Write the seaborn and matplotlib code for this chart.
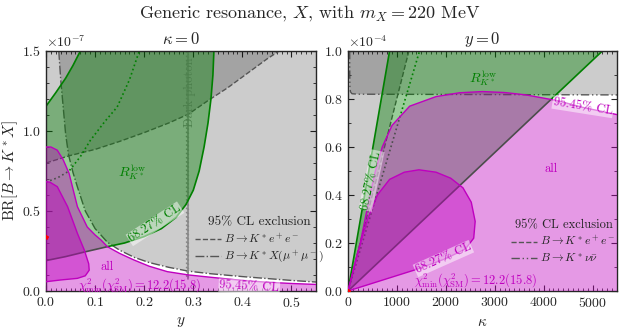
import numpy as np
import matplotlib
matplotlib.use("Agg")
import matplotlib.pyplot as plt
import matplotlib.patheffects as pe
from matplotlib.lines import Line2D
from matplotlib.ticker import MultipleLocator
import seaborn as sns

# =========================
# DATA
# =========================

# left panel: kappa = 0, x = y coupling, BR in units of 1e-7
ee_left_x = [0.0, 0.047, 0.10, 0.15, 0.20, 0.25, 0.29, 0.33, 0.37, 0.41, 0.45, 0.475]
ee_left_br = [0.80, 0.845, 0.885, 0.935, 0.99, 1.05, 1.105, 1.19, 1.27, 1.36, 1.45, 1.50]

mumu_x = [0.026, 0.030, 0.035, 0.040, 0.046, 0.055, 0.064, 0.08, 0.10, 0.125, 0.15,
          0.18, 0.21, 0.25, 0.29, 0.335, 0.40, 0.45, 0.50, 0.55]
mumu_br = [1.50, 1.32, 1.15, 0.98, 0.85, 0.74, 0.65, 0.50, 0.39, 0.305, 0.255,
           0.21, 0.178, 0.148, 0.124, 0.108, 0.09, 0.078, 0.066, 0.056]

rk_main_x = [0.0, 0.04, 0.08, 0.125, 0.16, 0.20, 0.235, 0.265, 0.285, 0.30, 0.312,
             0.322, 0.330, 0.336, 0.340, 0.342]
rk_main_br = [0.19, 0.215, 0.245, 0.277, 0.30, 0.34, 0.39, 0.46, 0.54, 0.63, 0.75,
              0.90, 1.05, 1.20, 1.35, 1.50]
rk_top_x = [0.07, 0.055, 0.04, 0.02, 0.0]
rk_top_br = [1.50, 1.41, 1.33, 1.24, 1.155]

rk_dot_x = [0.0, 0.025, 0.047, 0.07, 0.09, 0.12, 0.145, 0.17, 0.19]
rk_dot_br = [0.68, 0.71, 0.75, 0.84, 0.94, 1.06, 1.15, 1.32, 1.50]

all95_left_x = [0.0, 0.01, 0.023, 0.035, 0.047, 0.064, 0.084, 0.10, 0.112, 0.125, 0.15,
                0.179, 0.21, 0.247, 0.291, 0.335, 0.40, 0.45, 0.50, 0.55]
all95_left_br = [0.90, 0.90, 0.88, 0.82, 0.735, 0.527, 0.40, 0.35, 0.319, 0.277, 0.235,
                 0.194, 0.155, 0.121, 0.10, 0.086, 0.066, 0.055, 0.047, 0.041]

all68_left_x = [0.0, 0.03, 0.064, 0.08, 0.088, 0.087, 0.078, 0.064, 0.044, 0.023, 0.008, 0.0]
all68_left_br = [0.058, 0.069, 0.079, 0.095, 0.13, 0.17, 0.256, 0.36, 0.527, 0.652, 0.68, 0.683]

dark_photon_x = [0.29, 0.29]
dark_photon_br = [0.075, 1.50]

best_left = (0.0, 0.34)

# right panel: y = 0, x = kappa, BR in units of 1e-4
ee_right_k = [0, 1245]
ee_right_br = [0.0, 1.0]

nunu_k = [35, 36, 40, 50, 80, 200, 5500]
nunu_br = [1.0, 0.90, 0.85, 0.83, 0.822, 0.82, 0.817]

rk_left_k = [0, 850]
rk_right_k = [0, 5200]
rk_edge_br = [0.0, 1.0]
rk_dot_k = [0, 1463]

all95_right_k = [0, 250, 430, 560, 700, 900, 1260, 1800, 2280, 2750, 3200, 3640,
                 4284, 4800, 5500]
all95_right_br = [0.0, 0.20, 0.38, 0.50, 0.60, 0.69, 0.77, 0.81, 0.826, 0.831, 0.827,
                  0.817, 0.793, 0.765, 0.735]

all68_right_k = [0, 700, 1400, 2000, 2400, 2570, 2600, 2520, 2350, 2100, 1800, 1450,
                 1150, 850, 600, 400, 200, 0]
all68_right_br = [0.0, 0.045, 0.09, 0.135, 0.175, 0.22, 0.29, 0.37, 0.43, 0.47, 0.495,
                  0.505, 0.495, 0.465, 0.40, 0.30, 0.16, 0.0]

best_right = (0, 0.0)

# =========================
# STYLE
# =========================

sns.set_style("ticks")
plt.rcParams['font.family'] = ['cmr10', 'DejaVu Serif']
plt.rcParams['mathtext.fontset'] = 'cm'
plt.rcParams['axes.formatter.use_mathtext'] = True
plt.rcParams['axes.unicode_minus'] = True
plt.rcParams['font.size'] = 10

GRAY = 'k'
GREEN = 'green'
MAG = '#bf00bf'
LINEGRAY = '#555555'


def line(ax, xs, ys, **kw):
    sns.lineplot(x=xs, y=ys, ax=ax, sort=False, estimator=None, legend=False, **kw)


def style_axes(ax):
    ax.tick_params(which='both', direction='in', top=True, right=True, labelsize=10)
    ax.tick_params(which='major', length=4)
    ax.tick_params(which='minor', length=2)
    for s in ax.spines.values():
        s.set_linewidth(1.0)


fig = plt.figure(figsize=(6.2, 3.32), dpi=100)
axL = fig.add_axes([0.0742, 0.1235, 0.4355, 0.7229])
axR = fig.add_axes([0.5613, 0.1235, 0.4339, 0.7229])

bb = dict(facecolor='white', alpha=0.5, edgecolor='none', pad=0.5)

# =========================
# LEFT PANEL
# =========================
sL = 1e-7
ax = axL
xmax, ymax = 0.55, 1.5

ee = np.array(ee_left_br) * sL
ax.fill(list(ee_left_x) + [0.0], list(ee) + [ymax * sL], color=GRAY, alpha=0.2, lw=0, zorder=1)
mm = np.array(mumu_br) * sL
ax.fill(list(mumu_x) + [xmax], list(mm) + [ymax * sL], color=GRAY, alpha=0.2, lw=0, zorder=1)
line(ax, ee_left_x, ee, color=LINEGRAY, lw=1, linestyle='--', zorder=1.5)
line(ax, mumu_x, mm, color=LINEGRAY, lw=1, linestyle='-.', zorder=1.5)

# dark photon
line(ax, dark_photon_x, np.array(dark_photon_br) * sL, color='#888888', lw=1.2, zorder=1.6,
     path_effects=[pe.withTickedStroke(spacing=3, angle=60, length=0.5)])
ax.text(0.293, 1.24e-7, "Dark photon", rotation=90, color='#808080', fontsize=9,
        ha='center', va='center', zorder=1.7)

# R_K* green region
gx = list(rk_main_x) + list(rk_top_x)
gy = list(np.array(rk_main_br) * sL) + list(np.array(rk_top_br) * sL)
ax.fill(gx, gy, color=GREEN, alpha=0.4, lw=0, zorder=2)
line(ax, rk_main_x, np.array(rk_main_br) * sL, color=GREEN, lw=1.2, zorder=2.5)
line(ax, rk_top_x, np.array(rk_top_br) * sL, color=GREEN, lw=1.2, zorder=2.5)
line(ax, rk_dot_x, np.array(rk_dot_br) * sL, color=GREEN, lw=1.2, linestyle=':', zorder=2.5)

# all-fit magenta
a95 = np.array(all95_left_br) * sL
ax.fill(list(all95_left_x) + [xmax, 0.0], list(a95) + [0, 0], color=MAG, alpha=0.4, lw=0, zorder=3)
line(ax, all95_left_x, a95, color=MAG, lw=1, zorder=3.5)
a68 = np.array(all68_left_br) * sL
ax.fill(all68_left_x, a68, color=MAG, alpha=0.45, lw=0, zorder=3)
line(ax, all68_left_x, a68, color=MAG, lw=1, zorder=3.5)
ax.plot(best_left[0], best_left[1] * sL, marker='*', color='red', ms=3, zorder=4)

ax.text(0.175, 0.745e-7, r"$R_{K^*}^{\rm low}$", color=GREEN, fontsize=10, ha='center', va='center', zorder=5)
ax.text(0.222, 0.42e-7, "68.27% CL", color=GREEN, fontsize=9, rotation=33, ha='center', va='center',
        bbox=bb, zorder=5)
ax.text(0.124, 0.152e-7, "all", color=MAG, fontsize=9, ha='center', va='center', zorder=5)
ax.text(0.19, 0.036e-7, r"$\chi^2_{\rm min}(\chi^2_{\rm SM})=12.2(15.8)$", color=MAG, fontsize=9,
        ha='center', va='center', zorder=5)
ax.text(0.414, 0.027e-7, "95.45% CL", color=MAG, fontsize=9, rotation=-3, ha='center', va='center',
        bbox=bb, zorder=5)

hL = [Line2D([], [], color=LINEGRAY, lw=1, ls='--', label=r"$B\to K^*e^+e^-$"),
      Line2D([], [], color=LINEGRAY, lw=1, ls='-.', label=r"$B\to K^*X(\mu^+\mu^-)$")]
lg = ax.legend(handles=hL, title="95% CL exclusion", frameon=False, fontsize=8.5, title_fontsize=9.5,
               loc='upper left', bbox_to_anchor=(0.52, 0.345), handlelength=2.2, handletextpad=0.3,
               labelspacing=0.25, borderpad=0.2)
lg.set_zorder(6)

ax.set_xlim(0, xmax)
ax.set_ylim(0, ymax * sL)
ax.xaxis.set_major_locator(MultipleLocator(0.1))
ax.xaxis.set_minor_locator(MultipleLocator(0.01))
ax.yaxis.set_major_locator(MultipleLocator(0.5e-7))
ax.yaxis.set_minor_locator(MultipleLocator(0.1e-7))
ax.ticklabel_format(axis='y', style='sci', scilimits=(-7, -7))
ax.set_xlabel(r"$y$", fontsize=11)
ax.set_ylabel(r"${\rm BR}[B\to K^* X]$", fontsize=11)
ax.yaxis.set_label_coords(-0.095, 0.5)
ax.set_title(r"$\kappa=0$", fontsize=12, pad=5)
style_axes(ax)

# =========================
# RIGHT PANEL
# =========================
sR = 1e-4
ax = axR
kmax, ymax = 5500, 1.0

ax.fill(list(ee_right_k) + [0], list(np.array(ee_right_br) * sR) + [ymax * sR],
        color=GRAY, alpha=0.2, lw=0, zorder=1)
nn = np.array(nunu_br) * sR
ax.fill(list(nunu_k) + [kmax], list(nn) + [ymax * sR], color=GRAY, alpha=0.2, lw=0, zorder=1)
line(ax, ee_right_k, np.array(ee_right_br) * sR, color=LINEGRAY, lw=1, linestyle='--', zorder=1.5)
line(ax, nunu_k, nn, color=LINEGRAY, lw=1, linestyle=(0, (6, 2, 1, 2, 1, 2)), zorder=1.5)

eb = np.array(rk_edge_br) * sR
ax.fill([rk_left_k[0], rk_left_k[1], rk_right_k[1]], [eb[0], eb[1], eb[1]],
        color=GREEN, alpha=0.4, lw=0, zorder=2)
line(ax, rk_left_k, eb, color=GREEN, lw=1.2, zorder=2.5)
line(ax, rk_right_k, eb, color=GREEN, lw=1.2, zorder=2.5)
line(ax, rk_dot_k, eb, color=GREEN, lw=1.2, linestyle=':', zorder=2.5)

a95 = np.array(all95_right_br) * sR
ax.fill(list(all95_right_k) + [kmax], list(a95) + [0], color=MAG, alpha=0.4, lw=0, zorder=3)
line(ax, all95_right_k, a95, color=MAG, lw=1, zorder=3.5)
a68 = np.array(all68_right_br) * sR
ax.fill(all68_right_k, a68, color=MAG, alpha=0.45, lw=0, zorder=3)
line(ax, all68_right_k, a68, color=MAG, lw=1, zorder=3.5)
ax.plot(best_right[0], best_right[1] * sR, marker='*', color='red', ms=3, zorder=4)

ax.text(2755, 0.886e-4, r"$R_{K^*}^{\rm low}$", color=GREEN, fontsize=10, ha='center', va='center', zorder=5)
ax.text(480, 0.46e-4, "68.27% CL", color=GREEN, fontsize=9, rotation=78, ha='center', va='center',
        bbox=bb, zorder=5)
ax.text(4800, 0.768e-4, "95.45% CL", color=MAG, fontsize=9, rotation=-9, ha='center', va='center',
        bbox=bb, zorder=5)
ax.text(4150, 0.51e-4, "all", color=MAG, fontsize=9, ha='center', va='center', zorder=5)
ax.text(1950, 0.135e-4, "68.27% CL", color=MAG, fontsize=9, rotation=24, ha='center', va='center',
        bbox=bb, zorder=5)
ax.text(2620, 0.046e-4, r"$\chi^2_{\rm min}(\chi^2_{\rm SM})=12.2(15.8)$", color=MAG, fontsize=9,
        ha='center', va='center', zorder=5)

hR = [Line2D([], [], color=LINEGRAY, lw=1, ls='--', label=r"$B\to K^*e^+e^-$"),
      Line2D([], [], color=LINEGRAY, lw=1, ls=(0, (6, 2, 1, 2, 1, 2)), label=r"$B\to K^*\nu\bar{\nu}$")]
lg = ax.legend(handles=hR, title="95% CL exclusion", frameon=False, fontsize=8.5, title_fontsize=9,
               loc='upper left', bbox_to_anchor=(0.575, 0.335), handlelength=2.2, handletextpad=0.3,
               labelspacing=0.25, borderpad=0.2)
lg.set_zorder(6)

ax.set_xlim(0, kmax)
ax.set_ylim(0, ymax * sR)
ax.xaxis.set_major_locator(MultipleLocator(1000))
ax.xaxis.set_minor_locator(MultipleLocator(100))
ax.yaxis.set_major_locator(MultipleLocator(0.2e-4))
ax.yaxis.set_minor_locator(MultipleLocator(0.1e-4))
ax.ticklabel_format(axis='y', style='sci', scilimits=(-4, -4))
ax.set_xlabel(r"$\kappa$", fontsize=11)
ax.set_title(r"$y=0$", fontsize=12, pad=5)
style_axes(ax)

fig.suptitle(r"Generic resonance, $X$, with $m_X=220$ MeV", fontsize=13, y=0.99)

fig.savefig("out.png", dpi=100)
